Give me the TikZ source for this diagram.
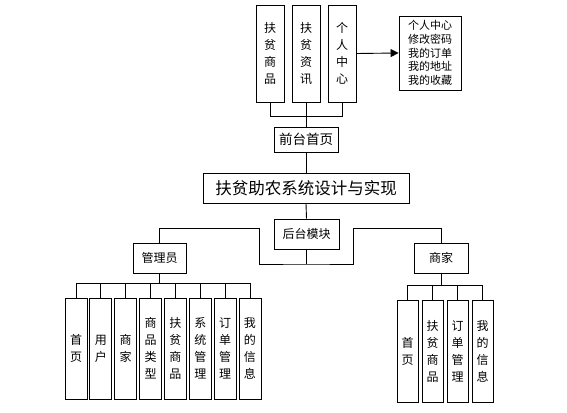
\documentclass[tikz,border=0pt]{standalone}
\usepackage{fontspec}
\setmainfont{Noto Sans CJK SC}
\usetikzlibrary{arrows.meta}

\tikzset{
  box/.style={draw, line width=0.9pt, inner sep=0pt, align=center},
  vbox/.style={box, minimum width=22pt, minimum height=101pt,
    font=\fontsize{12}{17}\selectfont},
  link/.style={line width=0.9pt}
}

\begin{document}
\begin{tikzpicture}[x=1pt, y=-1pt]
  \useasboundingbox (0,0) rectangle (567,412);

  % 前台
  \node[vbox, minimum width=28pt, minimum height=97pt] (fpsp) at (270,53.5) {扶\\贫\\商\\品};
  \node[vbox, minimum width=28pt, minimum height=97pt] (fpzx) at (306,53.5) {扶\\贫\\资\\讯};
  \node[vbox, minimum width=28pt, minimum height=97pt] (grzx) at (342,53.5) {个\\人\\中\\心};
  \node[box, minimum width=62pt, minimum height=74pt,
    font=\fontsize{11}{13.7}\selectfont] (info) at (430,53)
    {个人中心\\修改密码\\我的订单\\我的地址\\我的收藏};
  \node[box, minimum width=64pt, minimum height=25pt,
    font=\fontsize{13.5}{16}\selectfont] (qtsy) at (306,139.5) {前台首页};

  \draw[link] (fpsp.south) -- ++(0,14) -| (grzx.south);
  \draw[link] (fpzx.south) -- (qtsy.north);
  \draw[link, -{Triangle[length=8pt, width=8pt]}] (grzx.east) -- (info.west);

  % 系统名称
  \node[box, minimum width=206pt, minimum height=30pt,
    font=\fontsize{16.5}{20}\selectfont] (title) at (306,188) {扶贫助农系统设计与实现};
  \draw[link] (qtsy.south) -- (title.north);

  % 后台
  \node[box, minimum width=65pt, minimum height=30pt,
    font=\fontsize{12}{14}\selectfont] (htmk) at (306.5,234) {后台模块};
  \node[box, minimum width=53pt, minimum height=30pt,
    font=\fontsize{12}{14}\selectfont] (gly) at (159.5,258) {管理员};
  \node[box, minimum width=54pt, minimum height=30pt,
    font=\fontsize{12}{14}\selectfont] (sj) at (441,258) {商家};
  \draw[link] (title.south) -- (htmk.north);

  \coordinate (hb) at (306.5,264);
  \coordinate (jl) at (259,228);
  \coordinate (jr) at (353,228);
  \draw[link] (htmk.south) -- (hb);
  \draw[link] (gly.north) |- (jl) |- (hb) -| (jr) -| (sj.north);

  % 管理员功能
  \coordinate (gl) at (159.5,283);
  \draw[link] (gly.south) -- (gl);
  \foreach \t [count=\i] in {{首\\页},{用\\户},{商\\家},{商\\品\\类\\型},
      {扶\\贫\\商\\品},{系\\统\\管\\理},{订\\单\\管\\理},{我\\的\\信\\息}}{
    \node[vbox] (a\i) at ({76+24.85*(\i-1)},348.5) {\t};
    \draw[link] (a\i.north) |- (gl);
  }

  % 商家功能
  \coordinate (sl) at (441,285);
  \draw[link] (sj.south) -- (sl);
  \foreach \t [count=\i] in {{首\\页},{扶\\贫\\商\\品},{订\\单\\管\\理},{我\\的\\信\\息}}{
    \node[vbox, minimum width=21pt, minimum height=102pt] (b\i) at ({407.5+25*(\i-1)},351) {\t};
    \draw[link] (b\i.north) |- (sl);
  }

\end{tikzpicture}
\end{document}
